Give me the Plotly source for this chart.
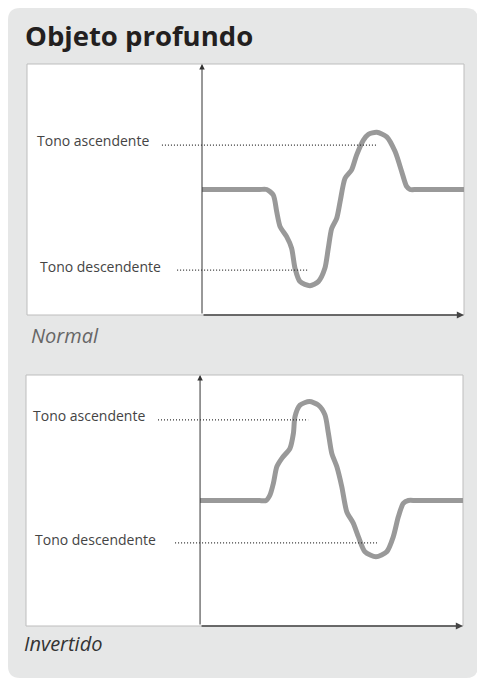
import plotly.graph_objects as go

# the page body has an 8px margin, so the figure is drawn 8px in from the window edge
OFF = 8
W, H = 485 - OFF, 679 - OFF

# --- data: pitch contours (x = time %, y = pitch %) ---
normal_x = [0, 12, 22, 24.7, 27.2, 28.5, 29.8, 32.3, 34.2, 35.5, 37.4, 41.2, 44.4, 46.9,
            48.2, 49.5, 51.4, 52.7, 54.6, 57.1, 59.0, 61.6, 63.5, 66.7, 70.5, 73.7,
            76.2, 78.1, 79.4, 82, 90, 100]
normal_y = [50, 50, 50, 50, 47.8, 41.2, 35.2, 31.2, 26.6, 18.6, 13.3, 11.7, 13.3, 18.6,
            26.6, 34.5, 38.5, 45.1, 54.5, 57.8, 63.7, 69.7, 72.0, 72.8, 71.0, 65.1,
            57.2, 51.2, 50, 50, 50, 50]

inv_x = [0, 12, 22.5, 25.1, 26.6, 27.9, 29.2, 31.1, 34.2, 35.5, 36.1, 38.0, 41.6, 45.0,
         47.5, 48.8, 50.1, 52.0, 53.9, 55.8, 58.3, 60.2, 62.7, 66.9, 71.0, 73.5, 75.4,
         77.3, 79.2, 82, 90, 100]
inv_y = [50, 50, 50, 50, 52.2, 56.9, 63.5, 66.8, 70.8, 76.8, 83.4, 88.0, 89.4, 88.0,
         84.1, 76.8, 68.8, 63.5, 55.5, 45.5, 40.9, 35.6, 29.6, 27.6, 29.6, 35.6, 43.5,
         48.9, 50, 50, 50, 50]

# guide lines: (x start, x end, y)
normal_rise = (-15.3, 66.4, 67.7)
normal_fall = (-9.5, 40.8, 17.9)
inv_rise = (-16.0, 41.1, 82.1)
inv_fall = (-9.5, 67.3, 33.1)

label_rise = "Tono ascendente"
label_fall = "Tono descendente"
title = "Objeto profundo"
captions = ["Normal", "Invertido"]

CURVE = "#999999"
DOTS = "#333333"
FONT = "Open Sans"


def px_x(v):
    # window pixel -> paper x
    return (v - OFF) / W


def px_y(v):
    # window pixel -> paper y
    return 1 - (v - OFF) / H


fig = go.Figure()

# curves
fig.add_trace(go.Scatter(x=normal_x, y=normal_y, mode="lines", xaxis="x", yaxis="y",
                         line=dict(color=CURVE, width=5, shape="spline", smoothing=0.7),
                         hoverinfo="skip"))
fig.add_trace(go.Scatter(x=inv_x, y=inv_y, mode="lines", xaxis="x2", yaxis="y2",
                         line=dict(color=CURVE, width=5, shape="spline", smoothing=0.7),
                         hoverinfo="skip"))

# dotted guide lines (on top of the curves)
for (x0, x1, y), xa, ya in [(normal_rise, "x", "y"), (normal_fall, "x", "y"),
                            (inv_rise, "x2", "y2"), (inv_fall, "x2", "y2")]:
    fig.add_trace(go.Scatter(x=[x0, x1], y=[y, y], mode="lines", xaxis=xa, yaxis=ya,
                             line=dict(color=DOTS, width=1.2, dash="1px,2px"),
                             hoverinfo="skip"))

# gray rounded background panel
L, T, R, B, r = 8, 8, 478, 678, 12
path = (f"M {px_x(L + r)},{px_y(T)} L {px_x(R - r)},{px_y(T)} "
        f"Q {px_x(R)},{px_y(T)} {px_x(R)},{px_y(T + r)} "
        f"L {px_x(R)},{px_y(B - r)} Q {px_x(R)},{px_y(B)} {px_x(R - r)},{px_y(B)} "
        f"L {px_x(L + r)},{px_y(B)} Q {px_x(L)},{px_y(B)} {px_x(L)},{px_y(B - r)} "
        f"L {px_x(L)},{px_y(T + r)} Q {px_x(L)},{px_y(T)} {px_x(L + r)},{px_y(T)} Z")
shapes = [dict(type="path", path=path, xref="paper", yref="paper",
               fillcolor="#e6e7e7", line=dict(width=0), layer="below")]

# white boxes with thin borders
for xr, yr in [("x", "y"), ("x2", "y2")]:
    shapes.append(dict(type="rect", xref=f"{xr} domain", yref=f"{yr} domain",
                       x0=0, x1=1, y0=0, y1=1, fillcolor="white",
                       line=dict(color="#bdbdbd", width=1), layer="below"))

annotations = [
    dict(text=f"<b>{title}</b>", xref="paper", yref="paper", x=px_x(23), y=px_y(36),
         xanchor="left", yanchor="middle", showarrow=False,
         font=dict(family=FONT, size=27.5, color="#231f20")),
]

# axes arrows
for xr, yr in [("x", "y"), ("x2", "y2")]:
    annotations.append(dict(x=0, y=100, ax=0, ay=0, xref=xr, yref=yr, axref=xr, ayref=yr,
                            text="", showarrow=True, arrowhead=2, arrowsize=1.1,
                            arrowwidth=1, arrowcolor="#333333", standoff=0))
    annotations.append(dict(x=100, y=0, ax=0, ay=0, xref=xr, yref=yr, axref=xr, ayref=yr,
                            text="", showarrow=True, arrowhead=2, arrowsize=0.9,
                            arrowwidth=1.6, arrowcolor="#444444", standoff=0))

# labels
for xr, yr, (_, _a, y), (_b, _c, yb), lx1, lx2 in [
        ("x", "y", normal_rise, normal_fall, -63.7, -62.6),
        ("x2", "y2", inv_rise, inv_fall, -64.3, -63.7)]:
    annotations.append(dict(text=label_rise, x=lx1, y=y + 1.8, xref=xr, yref=yr,
                            xanchor="left", yanchor="middle", showarrow=False,
                            font=dict(family=FONT, size=14, color="#444444")))
    annotations.append(dict(text=label_fall, x=lx2, y=yb + 1.5, xref=xr, yref=yr,
                            xanchor="left", yanchor="middle", showarrow=False,
                            font=dict(family=FONT, size=14, color="#444444")))

# captions
annotations.append(dict(text=f"<i>{captions[0]}</i>", xref="paper", yref="paper",
                        x=px_x(29), y=px_y(335), xanchor="left", yanchor="middle",
                        showarrow=False, font=dict(family=FONT, size=20, color="#666666")))
annotations.append(dict(text=f"<i>{captions[1]}</i>", xref="paper", yref="paper",
                        x=px_x(22), y=px_y(643), xanchor="left", yanchor="middle",
                        showarrow=False, font=dict(family=FONT, size=20, color="#333333")))

axis_common = dict(showgrid=False, zeroline=False, showticklabels=False, ticks="",
                   showline=False, fixedrange=True)

fig.update_layout(
    width=W, height=H, margin=dict(l=0, r=0, t=0, b=0),
    paper_bgcolor="white", plot_bgcolor="rgba(0,0,0,0)", showlegend=False,
    xaxis=dict(domain=[px_x(27), px_x(464)], range=[-66.8, 100], **axis_common),
    yaxis=dict(domain=[px_y(315), px_y(64)], range=[0, 100], **axis_common),
    xaxis2=dict(domain=[px_x(26), px_x(463)], range=[-66.2, 100], anchor="y2", **axis_common),
    yaxis2=dict(domain=[px_y(626), px_y(375)], range=[0, 100], anchor="x2", **axis_common),
    shapes=shapes, annotations=annotations,
)

fig.write_html("out.html")
